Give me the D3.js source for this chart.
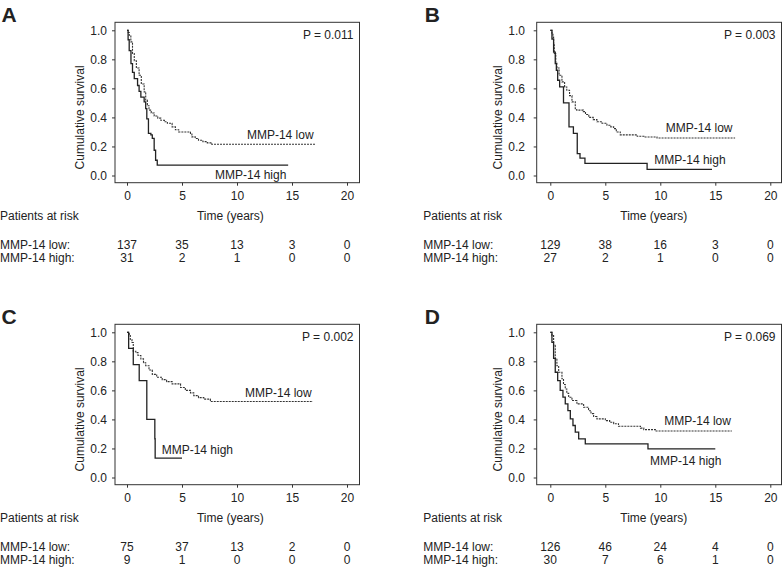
<!DOCTYPE html>
<html>
<head>
<meta charset="utf-8">
<script src="https://cdn.jsdelivr.net/npm/d3@7"></script>
<style>
  body { margin: 0; background: #fff; }
  svg text { font-family: "Liberation Sans", Arial, sans-serif; fill: #222; }
</style>
</head>
<body>
<svg id="chart" width="784" height="567"></svg>
<script>
// Kaplan-Meier steps: [years, cumulative survival]
const aLow = [[0,1],[0.1,0.985],[0.2,0.966],[0.35,0.92],[0.5,0.84],[0.66,0.79],[0.85,0.74],[1.1,0.69],[1.3,0.63],[1.56,0.576],[1.7,0.52],[1.85,0.48],[2.0,0.45],[2.2,0.43],[2.47,0.41],[2.8,0.395],[3.07,0.38],[3.4,0.37],[3.67,0.36],[4.1,0.335],[4.4,0.315],[4.7,0.30],[5.77,0.29],[5.9,0.266],[6.2,0.255],[6.5,0.243],[6.9,0.233],[7.3,0.225],[7.7,0.215],[17.1,0.215]];
const aHigh = [[0,1],[0.1,0.935],[0.2,0.86],[0.36,0.77],[0.5,0.71],[0.66,0.667],[0.96,0.62],[1.1,0.58],[1.26,0.54],[1.56,0.507],[1.7,0.46],[1.8,0.39],[1.95,0.29],[2.17,0.28],[2.3,0.255],[2.47,0.174],[2.6,0.105],[2.75,0.071],[14.65,0.071]];
const bLow = [[0,1],[0.15,0.98],[0.24,0.954],[0.3,0.9],[0.36,0.84],[0.5,0.78],[0.6,0.74],[0.8,0.69],[1.06,0.645],[1.3,0.61],[1.5,0.587],[1.75,0.55],[1.97,0.507],[2.27,0.46],[2.4,0.45],[3.0,0.44],[3.2,0.42],[3.5,0.40],[3.9,0.385],[4.24,0.37],[4.7,0.36],[5.15,0.346],[5.5,0.335],[5.76,0.323],[6.0,0.30],[6.36,0.28],[7.9,0.27],[8.5,0.265],[9.7,0.258],[16.8,0.258]];
const bHigh = [[0,1],[0.15,0.94],[0.3,0.85],[0.45,0.77],[0.55,0.725],[0.67,0.656],[0.85,0.61],[1.2,0.5],[1.7,0.335],[2.1,0.29],[2.45,0.15],[2.7,0.12],[3.15,0.083],[8.8,0.042],[14.7,0.042]];
const cLow = [[0,1],[0.2,0.977],[0.3,0.95],[0.45,0.93],[0.57,0.87],[0.8,0.86],[1.0,0.84],[1.26,0.817],[1.5,0.79],[1.7,0.77],[2.0,0.74],[2.3,0.71],[2.7,0.69],[3.2,0.674],[3.6,0.66],[4.1,0.645],[4.87,0.62],[5.3,0.60],[5.77,0.583],[6.07,0.564],[6.5,0.55],[6.98,0.54],[7.58,0.523],[16.9,0.523]];
const cHigh = [[0,1],[0.15,0.889],[0.57,0.778],[1.11,0.667],[1.8,0.40],[2.53,0.267],[2.56,0.133],[5.0,0.133]];
const dLow = [[0,1],[0.15,0.977],[0.3,0.91],[0.45,0.82],[0.6,0.77],[0.76,0.725],[1.06,0.68],[1.2,0.64],[1.36,0.61],[1.5,0.58],[1.67,0.553],[1.97,0.53],[2.42,0.507],[3.03,0.484],[3.48,0.46],[3.7,0.44],[3.94,0.42],[4.24,0.404],[5.0,0.392],[5.4,0.38],[5.76,0.37],[6.2,0.353],[8.2,0.34],[8.5,0.33],[9.55,0.32],[16.5,0.32]];
const dHigh = [[0,1],[0.15,0.93],[0.3,0.82],[0.45,0.725],[0.67,0.667],[0.9,0.6],[1.15,0.553],[1.36,0.507],[1.6,0.46],[1.82,0.404],[2.06,0.358],[2.27,0.312],[2.58,0.266],[3.18,0.232],[8.88,0.197],[15.0,0.197]];

// patients at risk at 0, 5, 10, 15, 20 years
const riskLow = [[137,35,13,3,0],[129,38,16,3,0],[75,37,13,2,0],[126,46,24,4,0]];
const riskHigh = [[31,2,1,0,0],[27,2,1,0,0],[9,1,0,0,0],[30,7,6,1,0]];

const letters = ["A","B","C","D"];
const pValues = ["P = 0.011","P = 0.003","P = 0.002","P = 0.069"];
const xTicks = [0,5,10,15,20];
const yTicks = [0,0.2,0.4,0.6,0.8,1.0];

const svg = d3.select("#chart");

// column / row geometry of the four panels
const cols = [
  {x0: 127, boxL: 115, boxR: 359.5, pad: 5, ylabX: 80},
  {x0: 550.3, boxL: 536.7, boxR: 781.5, pad: 8.7, ylabX: 497.5}
];
const rowOffset = [0, 302];

const panels = [
  {low: aLow, high: aHigh, lowLab: [10.9, 0.28], highLab: [8.0, 0.005]},
  {low: bLow, high: bHigh, lowLab: [10.5, 0.326], highLab: [9.45, 0.108]},
  {low: cLow, high: cHigh, lowLab: [10.73, 0.585], highLab: [3.15, 0.188]},
  {low: dLow, high: dHigh, lowLab: [10.36, 0.39], highLab: [9.07, 0.114]}
];

panels.forEach(function(p, i) {
  let c = cols[i % 2];
  let dy = rowOffset[Math.floor(i / 2)];
  let boxTop = 22.3 + dy, boxBottom = 182.7 + dy;

  let x = d3.scaleLinear().domain([0, 20]).range([c.x0, c.x0 + 220]);
  let y = d3.scaleLinear().domain([0, 1]).range([175.5 + dy, 30.3 + dy]);

  let g = svg.append("g");

  // panel letter
  g.append("text").attr("x", c.x0 - 125.5).attr("y", 21.5 + dy)
    .style("font-size", "21px").style("font-weight", "bold").text(letters[i]);

  // frame
  g.append("rect").attr("x", c.boxL).attr("y", boxTop)
    .attr("width", c.boxR - c.boxL).attr("height", boxBottom - boxTop)
    .attr("fill", "none").attr("stroke", "#333").attr("stroke-width", 1);

  let yAxis = d3.axisLeft(y).tickValues(yTicks).tickFormat(d3.format(".1f"))
    .tickSize(3).tickPadding(c.pad);
  let ya = g.append("g").attr("transform", "translate(" + c.boxL + ",0)").call(yAxis);

  let xAxis = d3.axisBottom(x).tickValues(xTicks).tickSize(3).tickPadding(6);
  let xa = g.append("g").attr("transform", "translate(0," + boxBottom + ")").call(xAxis);

  [ya, xa].forEach(function(a) {
    a.select(".domain").remove();
    a.selectAll(".tick line").attr("stroke", "#333");
    a.selectAll(".tick text").style("font-size", "12px").style("font-family", null).attr("fill", "#222");
  });

  // axis titles
  g.append("text")
    .attr("transform", "translate(" + c.ylabX + "," + y(0.4) + ") rotate(-90)")
    .attr("text-anchor", "middle").attr("dy", "0.35em")
    .style("font-size", "12px").text("Cumulative survival");

  // curves
  let line = d3.line().x(d => x(d[0])).y(d => y(d[1])).curve(d3.curveStepAfter);
  g.append("path").datum(p.low).attr("d", line)
    .attr("fill", "none").attr("stroke", "#333").attr("stroke-width", 1.1)
    .attr("stroke-dasharray", "2,1");
  g.append("path").datum(p.high).attr("d", line)
    .attr("fill", "none").attr("stroke", "#222").attr("stroke-width", 1.3);

  // labels inside the plot
  g.append("text").attr("x", c.boxR - 6).attr("y", y(0.967)).attr("dy", "0.35em")
    .attr("text-anchor", "end").style("font-size", "12px").text(pValues[i]);
  g.append("text").attr("x", x(p.lowLab[0])).attr("y", y(p.lowLab[1])).attr("dy", "0.35em")
    .style("font-size", "12px").text("MMP-14 low");
  g.append("text").attr("x", x(p.highLab[0])).attr("y", y(p.highLab[1])).attr("dy", "0.35em")
    .style("font-size", "12px").text("MMP-14 high");

  // patients at risk table
  let labX = c.x0 - 127;
  g.append("text").attr("x", labX).attr("y", boxBottom + 33.5).attr("dy", "0.35em")
    .style("font-size", "12px").text("Patients at risk");
  g.append("text").attr("x", x(9.4)).attr("y", boxBottom + 33.5).attr("dy", "0.35em")
    .attr("text-anchor", "middle").style("font-size", "12px").text("Time (years)");

  [["MMP-14 low:", riskLow[i], 62], ["MMP-14 high:", riskHigh[i], 75.5]].forEach(function(r) {
    g.append("text").attr("x", labX).attr("y", boxBottom + r[2]).attr("dy", "0.35em")
      .style("font-size", "12px").text(r[0]);
    g.selectAll(null).data(r[1]).enter().append("text")
      .attr("x", (d, k) => x(xTicks[k])).attr("y", boxBottom + r[2]).attr("dy", "0.35em")
      .attr("text-anchor", "middle").style("font-size", "12px").text(d => d);
  });
});
</script>
</body>
</html>
